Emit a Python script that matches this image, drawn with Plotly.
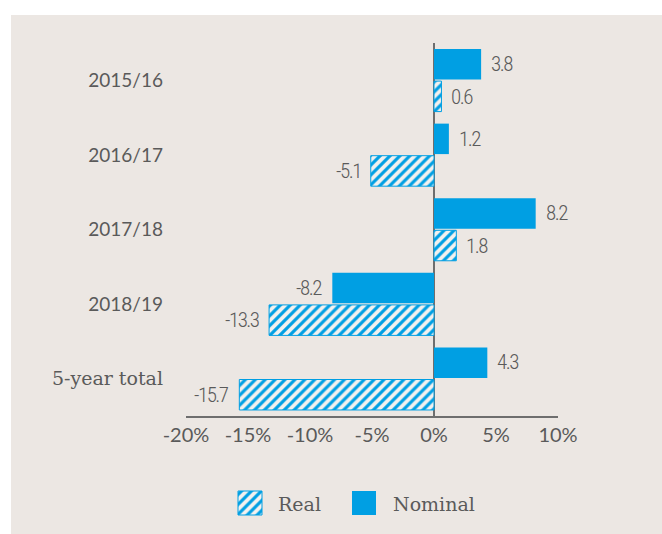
import plotly.graph_objects as go

# Data
categories = ["2015/16", "2016/17", "2017/18", "2018/19", "5-year total"]
nominal = [3.8, 1.2, 8.2, -8.2, 4.3]
real = [0.6, -5.1, 1.8, -13.3, -15.7]
x_ticks = [-20, -15, -10, -5, 0, 5, 10]
x_tick_labels = ["-20%", "-15%", "-10%", "-5%", "0%", "5%", "10%"]

W, H = 662, 534
BLUE = "#009FE3"
TEXT = "#5a5a5a"
AXIS = "#6e6e6e"
PANEL = "#ECE7E3"
STRIPE_BG = "#F3F1EF"

# plot area in pixels
PL, PR, PT, PB = 186, 558, 43, 416

CAT_FONT = "Lato, 'Open Sans', sans-serif"
SLAB_FONT = "'DejaVu Serif', serif"
NUM_FONT = "Roboto, 'DejaVu Sans', sans-serif"


def cat_label(c):
    # the word label uses the slab face, the year labels the sans face
    if any(ch.isalpha() for ch in c):
        return f'<span style="font-family:{SLAB_FONT}">{c}</span>'
    return c


def num_label(v):
    # tight, narrow-looking figures for the bar values
    return (f'<span style="font-stretch:ultra-condensed;'
            f'letter-spacing:-1.5px;font-weight:300">{v:.1f}</span>')


real_pattern = dict(shape="/", fgcolor=BLUE, bgcolor=STRIPE_BG, size=7,
                    solidity=0.45, fillmode="replace")

fig = go.Figure()
fig.add_trace(go.Bar(
    y=categories, x=nominal, orientation="h", name="Nominal",
    marker=dict(color=BLUE, line=dict(width=0)),
    showlegend=False, hoverinfo="x+y",
))
fig.add_trace(go.Bar(
    y=categories, x=real, orientation="h", name="Real",
    marker=dict(color=STRIPE_BG, pattern=real_pattern,
                line=dict(color=BLUE, width=1)),
    showlegend=False, hoverinfo="x+y",
))

# value labels beside each bar
annotations = []
for series, shift in ((nominal, 16.3), (real, -16.3)):
    for c, v in zip(categories, series):
        annotations.append(dict(
            x=v, y=c, xref="x", yref="y", text=num_label(v),
            showarrow=False, xanchor="left" if v >= 0 else "right",
            xshift=8 if v >= 0 else -8, yshift=shift,
            font=dict(family=NUM_FONT, size=21, color=TEXT),
        ))

# legend: swatches drawn on a pixel-scaled overlay axis, labels as text
LEG_Y0, LEG_SIZE = 491, 24
legend_items = [("Real", 238, 276), ("Nominal", 352, 391)]
for name, sx, tx in legend_items:
    marker = (dict(color=STRIPE_BG, pattern=real_pattern,
                   line=dict(color=BLUE, width=1))
              if name == "Real" else dict(color=BLUE, line=dict(width=0)))
    fig.add_trace(go.Bar(
        x=[sx + LEG_SIZE / 2], y=[LEG_SIZE], base=[LEG_Y0], width=[LEG_SIZE],
        xaxis="x2", yaxis="y2", marker=marker, showlegend=False,
        hoverinfo="skip",
    ))
    annotations.append(dict(
        x=tx, y=LEG_Y0 + LEG_SIZE / 2 + 1, xref="x2", yref="y2", text=name,
        showarrow=False, xanchor="left", yanchor="middle",
        font=dict(family=SLAB_FONT, size=19, color=TEXT),
    ))

fig.update_layout(
    template="none",
    width=W, height=H, autosize=False,
    margin=dict(l=0, r=0, t=0, b=0, pad=0, autoexpand=False),
    paper_bgcolor="white",
    plot_bgcolor="rgba(0,0,0,0)",
    barmode="group", bargap=0.14, bargroupgap=0.05,
    xaxis=dict(
        domain=[PL / W, PR / W], range=[-20, 10], automargin=False,
        tickvals=x_ticks, ticktext=x_tick_labels,
        tickfont=dict(family=CAT_FONT, size=20, color=TEXT),
        showgrid=False, showline=True, linecolor=AXIS, linewidth=2,
        zeroline=True, zerolinecolor=AXIS, zerolinewidth=2,
        ticks="", fixedrange=True,
    ),
    yaxis=dict(
        domain=[1 - PB / H, 1 - PT / H], automargin=False,
        categoryorder="array", categoryarray=categories,
        tickvals=categories, ticktext=[cat_label(c) for c in categories],
        autorange="reversed",
        tickfont=dict(family=CAT_FONT, size=19, color=TEXT),
        showgrid=False, showline=False, zeroline=False, ticks="",
        ticklabelstandoff=22, fixedrange=True,
    ),
    xaxis2=dict(domain=[0, 1], range=[0, W], visible=False, anchor="y2",
                automargin=False, fixedrange=True),
    yaxis2=dict(domain=[0, 1], range=[H, 0], visible=False, anchor="x2",
                automargin=False, fixedrange=True),
    shapes=[dict(
        type="rect", xref="paper", yref="paper", layer="below",
        x0=11 / W, x1=1, y0=0, y1=1 - 15 / H,
        fillcolor=PANEL, line=dict(width=0),
    )],
    annotations=annotations,
    showlegend=False,
)

fig.write_html("out.html", config={"responsive": False})
